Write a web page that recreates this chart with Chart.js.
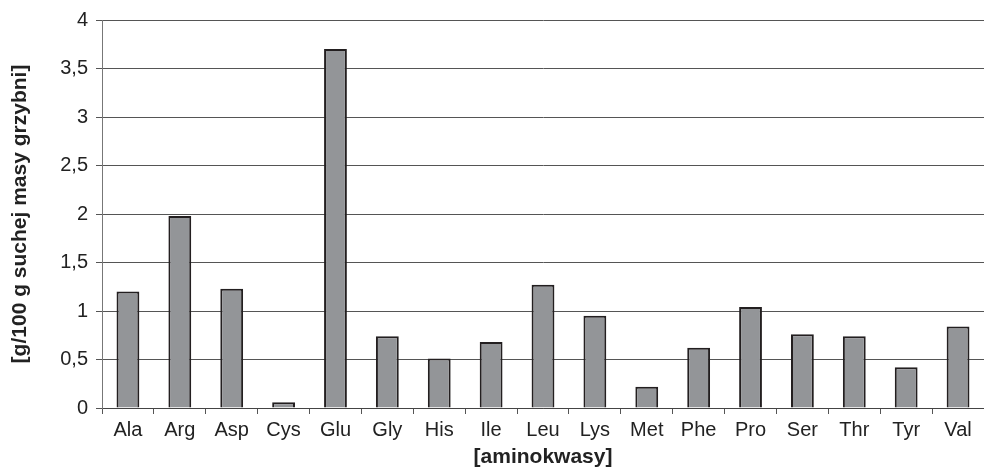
<!DOCTYPE html>
<html>
<head>
<meta charset="utf-8">
<script src="https://cdn.jsdelivr.net/npm/chart.js@4"></script>
<style>
  html, body { margin: 0; padding: 0; background: #fff; }
  #wrap { width: 984px; height: 470px; }
</style>
</head>
<body>
<div id="wrap"><canvas id="chart" width="984" height="470"></canvas></div>
<script>
// --- DATA ---
const aminoAcids = ['Ala', 'Arg', 'Asp', 'Cys', 'Glu', 'Gly', 'His', 'Ile', 'Leu',
                    'Lys', 'Met', 'Phe', 'Pro', 'Ser', 'Thr', 'Tyr', 'Val'];
const contentValues = [1.2, 1.98, 1.23, 0.06, 3.7, 0.74, 0.51, 0.68, 1.27,
                       0.95, 0.22, 0.62, 1.04, 0.76, 0.74, 0.42, 0.84];
const yTicks = [0, 0.5, 1, 1.5, 2, 2.5, 3, 3.5, 4];

const FONT = 'Arial, "Liberation Sans", Helvetica, sans-serif';

// --- CHART ---
new Chart(document.getElementById('chart'), {
    type: 'bar',
    data: {
        labels: aminoAcids,
        datasets: [{
            data: contentValues,
            backgroundColor: '#939598',
            borderColor: '#231f20',
            borderWidth: 2,
            borderSkipped: 'bottom',
            categoryPercentage: 1,
            barPercentage: 0.44
        }]
    },
    options: {
        responsive: false,
        animation: false,
        layout: { padding: { top: 6, right: 0, left: 8, bottom: 0 } },
        plugins: { legend: { display: false }, tooltip: { enabled: false } },
        scales: {
            x: {
                offset: true,
                afterFit: (scale) => { scale.height = 62; },
                grid: { offset: true, drawOnChartArea: false, drawTicks: true, tickLength: 6, color: '#555', lineWidth: 1 },
                border: { color: '#444', width: 1 },
                ticks: { color: '#222', font: { family: FONT, size: 20 }, padding: 4, maxRotation: 0 },
                title: { display: true, text: '[aminokwasy]', color: '#222', font: { family: FONT, size: 21, weight: 'bold' }, padding: 0 }
            },
            y: {
                min: 0,
                max: 4,
                afterBuildTicks: (scale) => { scale.ticks = yTicks.map(v => ({ value: v })); },
                afterFit: (scale) => { scale.width = 94; },
                grid: { color: '#555', lineWidth: 1, tickLength: 6 },
                border: { color: '#777', width: 1 },
                ticks: {
                    color: '#222',
                    font: { family: FONT, size: 20 },
                    padding: 8,
                    callback: (v) => String(v).replace('.', ',')
                },
                title: { display: true, text: '[g/100 g suchej masy grzybni]', color: '#222', font: { family: FONT, size: 21, weight: 'bold' }, padding: 0 }
            }
        }
    }
});
</script>
</body>
</html>
